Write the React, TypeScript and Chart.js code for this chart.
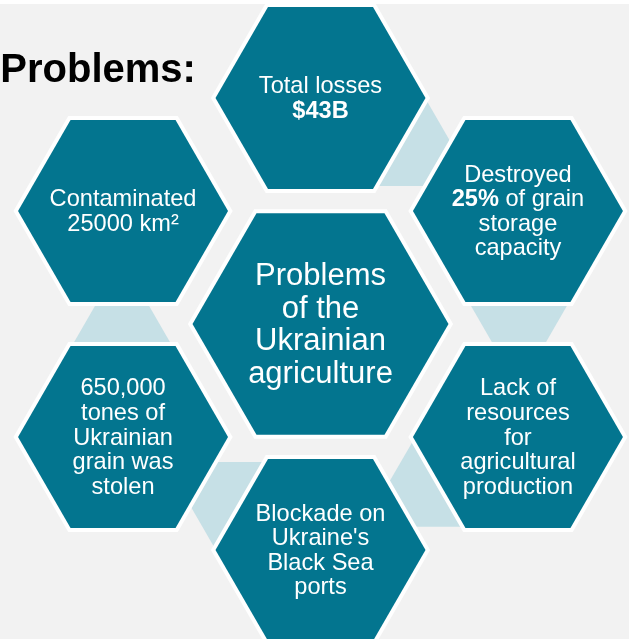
import { useEffect, useRef } from "react";
import { Chart, registerables } from "chart.js";

Chart.register(...registerables);

const W = 629;
const H = 639;

// ---- content ----
const titleText = "Problems:";
const centerLines = ["Problems", "of the", "Ukrainian", "agriculture"];
const problemLines: string[][] = [
  ["Total losses", "**$43B**"],
  ["Destroyed", "**25%** of grain", "storage", "capacity"],
  ["Lack of", "resources", "for", "agricultural", "production"],
  ["Blockade on", "Ukraine's", "Black Sea", "ports"],
  ["650,000", "tones of", "Ukrainian", "grain was", "stolen"],
  ["Contaminated", "25000 km²"],
];
// connectors drawn between problem i and problem i+1
const linkedFrom = [0, 1, 2, 3, 4];

// ---- style ----
const BG = "#f2f2f2";
const TEAL = "#03758f";
const LINK = "#c6e0e6";
const FONT = "'Liberation Sans', Arial, sans-serif";

// ---- layout (data units map 1:1 to pixels via the scales) ----
const CX = 320.5;
const CY = 324;
const RING_X = 228;
const RING_Y = 226;
const R_OUTER = 105;
const R_CENTER = 128;

const ringPoints = problemLines.map((_, i) => {
  const a = ((-90 + 60 * i) * Math.PI) / 180;
  return { x: CX + RING_X * Math.cos(a), y: CY + RING_Y * Math.sin(a) };
});

function hexPath(ctx: CanvasRenderingContext2D, x: number, y: number, r: number) {
  ctx.beginPath();
  for (let k = 0; k < 6; k++) {
    const a = (Math.PI / 3) * k;
    const px = x + r * Math.cos(a);
    const py = y + r * Math.sin(a);
    if (k === 0) ctx.moveTo(px, py);
    else ctx.lineTo(px, py);
  }
  ctx.closePath();
}

function drawHex(ctx: CanvasRenderingContext2D, x: number, y: number, r: number) {
  hexPath(ctx, x, y, r);
  ctx.lineJoin = "miter";
  ctx.lineWidth = 8;
  ctx.strokeStyle = "#ffffff";
  ctx.stroke();
  ctx.fillStyle = TEAL;
  ctx.fill();
}

function drawLines(
  ctx: CanvasRenderingContext2D,
  lines: string[],
  x: number,
  y: number,
  fs: number,
  lh: number
) {
  const n = lines.length;
  ctx.fillStyle = "#ffffff";
  ctx.textAlign = "left";
  ctx.textBaseline = "alphabetic";
  lines.forEach((line, i) => {
    const parts = line.split("**");
    const segs = parts
      .map((t, k) => ({ text: t, bold: k % 2 === 1, w: 0 }))
      .filter((s) => s.text.length > 0);
    let total = 0;
    segs.forEach((s) => {
      ctx.font = `${s.bold ? "bold " : ""}${fs}px ${FONT}`;
      s.w = ctx.measureText(s.text).width;
      total += s.w;
    });
    let sx = x - total / 2;
    const by = y + (i - (n - 1) / 2) * lh + 0.32 * fs;
    segs.forEach((s) => {
      ctx.font = `${s.bold ? "bold " : ""}${fs}px ${FONT}`;
      ctx.fillText(s.text, sx, by);
      sx += s.w;
    });
  });
}

const infographicPlugin = {
  id: "hexInfographic",
  beforeDraw(chart: any) {
    const { ctx } = chart;
    ctx.save();
    ctx.fillStyle = "#ffffff";
    ctx.fillRect(0, 0, chart.width, chart.height);
    ctx.fillStyle = BG;
    ctx.fillRect(0, 4, chart.width, chart.height - 4);
    ctx.restore();
  },
  beforeDatasetsDraw(chart: any) {
    const { ctx } = chart;
    const c = chart.getDatasetMeta(0).data[0];
    const ring = chart.getDatasetMeta(1).data;
    const xs = chart.scales.x;
    const unit = xs.getPixelForValue(1) - xs.getPixelForValue(0);
    ctx.save();
    ctx.fillStyle = LINK;
    linkedFrom.forEach((i) => {
      const p = ring[i];
      const q = ring[(i + 1) % ring.length];
      const mx = (p.x + q.x) / 2;
      const my = (p.y + q.y) / 2;
      let ux = mx - c.x;
      let uy = my - c.y;
      const ul = Math.hypot(ux, uy);
      ux /= ul;
      uy /= ul;
      let vx = q.x - p.x;
      let vy = q.y - p.y;
      const vl = Math.hypot(vx, vy);
      vx /= vl;
      vy /= vl;
      const k = 0.577;
      const T = 22;
      const pts = [
        [-36.5 - k * T, -T],
        [38.5 + k * T, -T],
        [38.5 - k * T, T],
        [-36.5 + k * T, T],
      ];
      ctx.beginPath();
      pts.forEach(([r, t], j) => {
        const px = mx + (ux * r + vx * t) * unit;
        const py = my + (uy * r + vy * t) * unit;
        if (j === 0) ctx.moveTo(px, py);
        else ctx.lineTo(px, py);
      });
      ctx.closePath();
      ctx.fill();
    });
    ctx.restore();
  },
  afterDatasetsDraw(chart: any) {
    const { ctx } = chart;
    const xs = chart.scales.x;
    const unit = xs.getPixelForValue(1) - xs.getPixelForValue(0);
    const c = chart.getDatasetMeta(0).data[0];
    const ring = chart.getDatasetMeta(1).data;
    ctx.save();
    ring.forEach((p: any) => drawHex(ctx, p.x, p.y, R_OUTER * unit));
    drawHex(ctx, c.x, c.y, R_CENTER * unit);
    ring.forEach((p: any, i: number) =>
      drawLines(ctx, problemLines[i], p.x, p.y, 23.6 * unit, 24.6 * unit)
    );
    drawLines(ctx, centerLines, c.x, c.y, 31 * unit, 32.7 * unit);
    // title
    ctx.fillStyle = "#000000";
    ctx.textAlign = "left";
    ctx.textBaseline = "alphabetic";
    ctx.font = `bold ${40 * unit}px ${FONT}`;
    ctx.fillText(titleText, xs.getPixelForValue(0.3), chart.scales.y.getPixelForValue(82));
    ctx.restore();
  },
};

export default function App() {
  const ref = useRef<HTMLCanvasElement | null>(null);
  useEffect(() => {
    document.body.style.margin = "0";
    const canvas = ref.current;
    if (!canvas) return;
    const chart = new Chart(canvas, {
      type: "scatter",
      data: {
        datasets: [
          {
            label: "center",
            data: [{ x: CX, y: CY }],
            pointRadius: 0,
            pointHoverRadius: 0,
          },
          {
            label: "problems",
            data: ringPoints,
            pointRadius: 0,
            pointHoverRadius: 0,
          },
        ],
      },
      options: {
        animation: false,
        responsive: false,
        events: [],
        layout: { padding: 0 },
        scales: {
          x: { type: "linear", min: 0, max: W, display: false },
          y: { type: "linear", min: 0, max: H, reverse: true, display: false },
        },
        plugins: {
          legend: { display: false },
          tooltip: { enabled: false },
          title: { display: false },
        },
      },
      plugins: [infographicPlugin],
    });
    return () => chart.destroy();
  }, []);
  return (
    <div style={{ position: "absolute", left: 0, top: 0, width: W, height: H }}>
      <canvas ref={ref} width={W} height={H} style={{ display: "block", width: W, height: H }} />
    </div>
  );
}
